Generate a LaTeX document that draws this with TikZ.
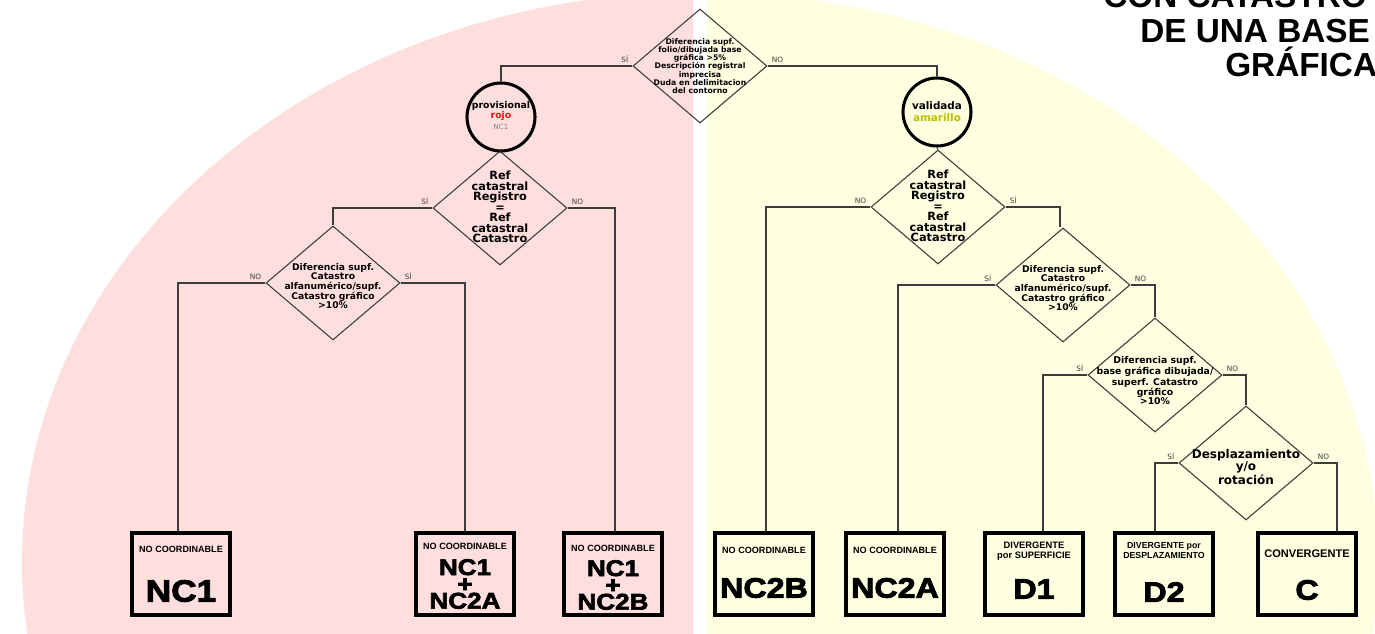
\documentclass[tikz,border=0pt]{standalone}
\usepackage{fontspec}
\setmainfont{DejaVu Sans}
\newfontfamily\libfont{Liberation Sans}
\newfontfamily\heavyfont{Liberation Sans}[FakeStretch=1.15,BoldFeatures={FakeBold=3}]
\usetikzlibrary{shapes.geometric,calc}
\definecolor{pinkbg}{RGB}{255,222,222}
\definecolor{yellowbg}{RGB}{254,254,224}
\definecolor{lin}{RGB}{60,60,60}
\definecolor{amar}{RGB}{190,190,0}
\definecolor{redtxt}{RGB}{240,20,20}
\begin{document}
\begin{tikzpicture}[x=0.75pt,y=-0.75pt,
  dia/.style={draw=lin, line width=0.8pt, diamond, inner sep=0pt, minimum width=100.5pt, minimum height=85.5pt},
  dtxt/.style={align=center, inner sep=0pt, font=\bfseries},
  circ/.style={draw=black, line width=2.3pt, circle, inner sep=0pt, minimum size=51pt},
  box/.style={draw=black, line width=3pt, rectangle, inner sep=0pt, minimum width=73pt, minimum height=62pt},
  conn/.style={draw=lin, line width=0.8pt},
  lblL/.style={anchor=south east, inner sep=0pt, xshift=-3pt, yshift=2pt, text=lin, font=\fontsize{5.5}{6}\selectfont},
  lblR/.style={anchor=south west, inner sep=0pt, xshift=3pt, yshift=2pt, text=lin, font=\fontsize{5.5}{6}\selectfont},
  smallt/.style={align=center, inner sep=0pt, font=\libfont\bfseries\fontsize{6.8}{7.5}\selectfont},
  bigt/.style={align=center, inner sep=0pt, font=\heavyfont\bfseries\fontsize{21}{21}\selectfont},
  midt/.style={align=center, inner sep=0pt, font=\heavyfont\bfseries\fontsize{17}{12.6}\selectfont},
  titl/.style={anchor=base west, inner sep=0pt, font=\libfont\bfseries\fontsize{25}{25}\selectfont}
]
\useasboundingbox (0,0) rectangle (1375,634);
\clip (0,0) rectangle (1375,634);
% background halves
\begin{scope}
  \clip (0,0) rectangle (693,634);
  \fill[pinkbg] (700,562) ellipse [x radius=678, y radius=570];
\end{scope}
\begin{scope}
  \clip (707,0) rectangle (1375,634);
  \fill[yellowbg] (700,562) ellipse [x radius=678, y radius=570];
\end{scope}

% title
\node[titl] (t1) at (1103,8) {CON CATASTRO};
\node[titl] (t2) at (1140,43) {DE UNA BASE};
\node[titl] (t3) at (1225,77) {GRÁFICA};

% diamonds
\node[dia] (d0) at (700,66) {};
\node[dtxt, font=\bfseries\fontsize{5.8}{6.2}\selectfont] (d0t) at (700,66) {Diferencia supf.\\folio/dibujada base\\gráfica >5\%\\Descripción registral\\imprecisa\\Duda en delimitacion\\del contorno};

\node[dia] (r1) at (500,208) {};
\node[dtxt, font=\bfseries\fontsize{8.5}{7.9}\selectfont] (r1t) at (500,207) {Ref\\catastral\\Registro\\=\\Ref\\catastral\\Catastro};

\node[dia] (r2) at (938,207) {};
\node[dtxt, font=\bfseries\fontsize{8.5}{7.9}\selectfont] (r2t) at (938,206) {Ref\\catastral\\Registro\\=\\Ref\\catastral\\Catastro};

\node[dia] (l2) at (333,283) {};
\node[dtxt, font=\bfseries\fontsize{6.9}{7.2}\selectfont] (l2t) at (333,286) {Diferencia supf.\\Catastro\\alfanumérico/supf.\\Catastro gráfico\\>10\%};

\node[dia] (r3) at (1063,285) {};
\node[dtxt, font=\bfseries\fontsize{6.9}{7.2}\selectfont] (r3t) at (1063,288) {Diferencia supf.\\Catastro\\alfanumérico/supf.\\Catastro gráfico\\>10\%};

\node[dia] (r4) at (1155,375) {};
\node[dtxt, font=\bfseries\fontsize{7}{6.8}\selectfont] (r4t) at (1155,381) {Diferencia supf.\\base gráfica dibujada/\\superf. Catastro\\gráfico\\>10\%};

\node[dia] (r5) at (1246,463) {};
\node[dtxt, font=\bfseries\fontsize{9}{8.8}\selectfont] (r5t) at (1246,467) {Desplazamiento\\y/o\\rotación};

% circles
\node[circ] (c1) at (501,117) {};
\node[dtxt, font=\bfseries\fontsize{7}{8}\selectfont] (c1a) at (501,106) {provisional};
\node[dtxt, font=\bfseries\fontsize{7}{8}\selectfont, text=redtxt] (c1b) at (501,116) {rojo};
\node[inner sep=0pt, font=\fontsize{5.3}{6}\selectfont, text=gray] (c1c) at (501,127) {NC1};

\node[circ] (c2) at (937,112) {};
\node[dtxt, font=\bfseries\fontsize{7.8}{8}\selectfont] (c2a) at (937,106) {validada};
\node[dtxt, font=\bfseries\fontsize{7.8}{8}\selectfont, text=amar] (c2b) at (937,118) {amarillo};

% boxes
\node[box] (b1) at (181,574) {};
\node[box] (b2) at (465,574) {};
\node[box] (b3) at (613,574) {};
\node[box] (b4) at (764,574) {};
\node[box] (b5) at (895,574) {};
\node[box] (b6) at (1034,574) {};
\node[box] (b7) at (1164,574) {};
\node[box] (b8) at (1307,574) {};

\node[smallt] (b1s) at (181,549) {NO COORDINABLE};
\node[bigt, font=\heavyfont\bfseries\fontsize{23}{23}\selectfont] (b1b) at (181,591) {NC1};
\node[smallt] (b2s) at (465,546) {NO COORDINABLE};
\node[midt] (b2b) at (465,584) {NC1\\+\\NC2A};
\node[smallt] (b3s) at (613,548) {NO COORDINABLE};
\node[midt] (b3b) at (613,585) {NC1\\+\\NC2B};
\node[smallt] (b4s) at (764,550) {NO COORDINABLE};
\node[bigt] (b4b) at (764,588) {NC2B};
\node[smallt] (b5s) at (895,550) {NO COORDINABLE};
\node[bigt] (b5b) at (895,588) {NC2A};
\node[smallt, font=\libfont\bfseries\fontsize{7}{7.5}\selectfont] (b6s) at (1034,551) {DIVERGENTE\\por SUPERFICIE};
\node[bigt] (b6b) at (1034,589) {D1};
\node[smallt, font=\libfont\bfseries\fontsize{6.6}{7.5}\selectfont] (b7s) at (1164,550) {DIVERGENTE por\\DESPLAZAMIENTO};
\node[bigt] (b7b) at (1164,592) {D2};
\node[smallt, font=\libfont\bfseries\fontsize{8.3}{9}\selectfont] (b8s) at (1307,554) {CONVERGENTE};
\node[bigt] (b8b) at (1307,590) {C};

% connectors
\draw[conn] (d0.west) -| (c1.north);
\draw[conn] (d0.east) -| (c2.north);
\draw[conn] (c1.south) -- (r1.north);
\draw[conn] (c2.south) -- (r2.north);
\draw[conn] (r1.west) -| (l2.north);
\draw[conn] (r1.east) -| ($(b3.north)+(2,0)$);
\draw[conn] (l2.west) -| ($(b1.north)+(-3,0)$);
\draw[conn] (l2.east) -| (b2.north);
\draw[conn] (r2.west) -| ($(b4.north)+(2,0)$);
\draw[conn] (r2.east) -| ($(r3.north)+(-3,0)$);
\draw[conn] (r3.west) -| ($(b5.north)+(3,0)$);
\draw[conn] (r3.east) -| (r4.north);
\draw[conn] (r4.west) -| ($(b6.north)+(9,0)$);
\draw[conn] (r4.east) -| (r5.north);
\draw[conn] (r5.west) -| ($(b7.north)+(-9,0)$);
\draw[conn] (r5.east) -| ($(b8.north)+(30,0)$);

% branch labels
\node[lblL] (ld0) at (d0.west) {SÍ};
\node[lblR] (rd0) at (d0.east) {NO};
\node[lblL] (lr1) at (r1.west) {SÍ};
\node[lblR] (rr1) at (r1.east) {NO};
\node[lblL] (lr2) at (r2.west) {NO};
\node[lblR] (rr2) at (r2.east) {SÍ};
\node[lblL] (ll2) at (l2.west) {NO};
\node[lblR] (rl2) at (l2.east) {SÍ};
\node[lblL] (lr3) at (r3.west) {SÍ};
\node[lblR] (rr3) at (r3.east) {NO};
\node[lblL] (lr4) at (r4.west) {SÍ};
\node[lblR] (rr4) at (r4.east) {NO};
\node[lblL] (lr5) at (r5.west) {SÍ};
\node[lblR] (rr5) at (r5.east) {NO};
\end{tikzpicture}
\end{document}
